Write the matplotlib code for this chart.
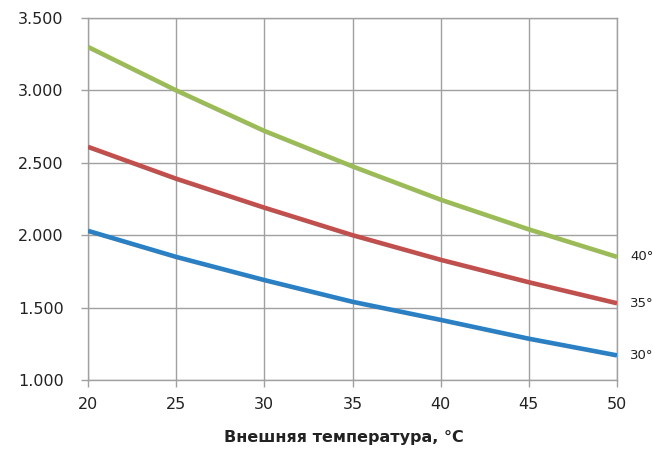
import matplotlib
matplotlib.use('Agg')
import matplotlib.pyplot as plt

temps = [20, 25, 30, 35, 40, 45, 50]
val_40 = [3.30, 3.00, 2.72, 2.475, 2.245, 2.04, 1.85]
val_35 = [2.61, 2.39, 2.19, 2.00, 1.83, 1.675, 1.53]
val_30 = [2.03, 1.85, 1.69, 1.54, 1.415, 1.285, 1.17]
series_labels = ['40°', '35°', '30°']
y_ticks = [1.0, 1.5, 2.0, 2.5, 3.0, 3.5]
y_tick_labels = ['1.000', '1.500', '2.000', '2.500', '3.000', '3.500']

fig = plt.figure(figsize=(6.53, 4.59), dpi=100)
ax = fig.add_axes([88 / 653, 79 / 459, 529 / 653, 362 / 459])

grid_col = '#a0a0a0'
colors = ['#9bbb59', '#c0504d', '#2b7fc3']
for vals, col, lab in zip([val_40, val_35, val_30], colors, series_labels):
    ax.plot(temps, vals, color=col, lw=3.3, solid_capstyle='butt', zorder=3)
    ax.annotate(lab, xy=(temps[-1], vals[-1]), xytext=(9.5, 0),
                textcoords='offset points', va='center', ha='left',
                fontsize=9.5, color='#222222', annotation_clip=False)

ax.set_xlim(20, 50)
ax.set_ylim(1.0, 3.5)
ax.set_xticks(temps)
ax.set_yticks(y_ticks)
ax.set_yticklabels(y_tick_labels)
ax.grid(True, color=grid_col, lw=1.0, zorder=0)
for s in ax.spines.values():
    s.set_color(grid_col)
    s.set_linewidth(1.0)
ax.tick_params(axis='both', colors=grid_col, labelcolor='#222222',
               labelsize=11.5, length=5, width=1.0, direction='out')
ax.tick_params(axis='x', pad=7)
ax.tick_params(axis='y', pad=12.5)
ax.set_xlabel('Внешняя температура, °C', fontsize=11.5, fontweight='bold',
              color='#222222', labelpad=13)
ax.xaxis.label.set_x(0.483)

fig.savefig('out.png', dpi=100)
